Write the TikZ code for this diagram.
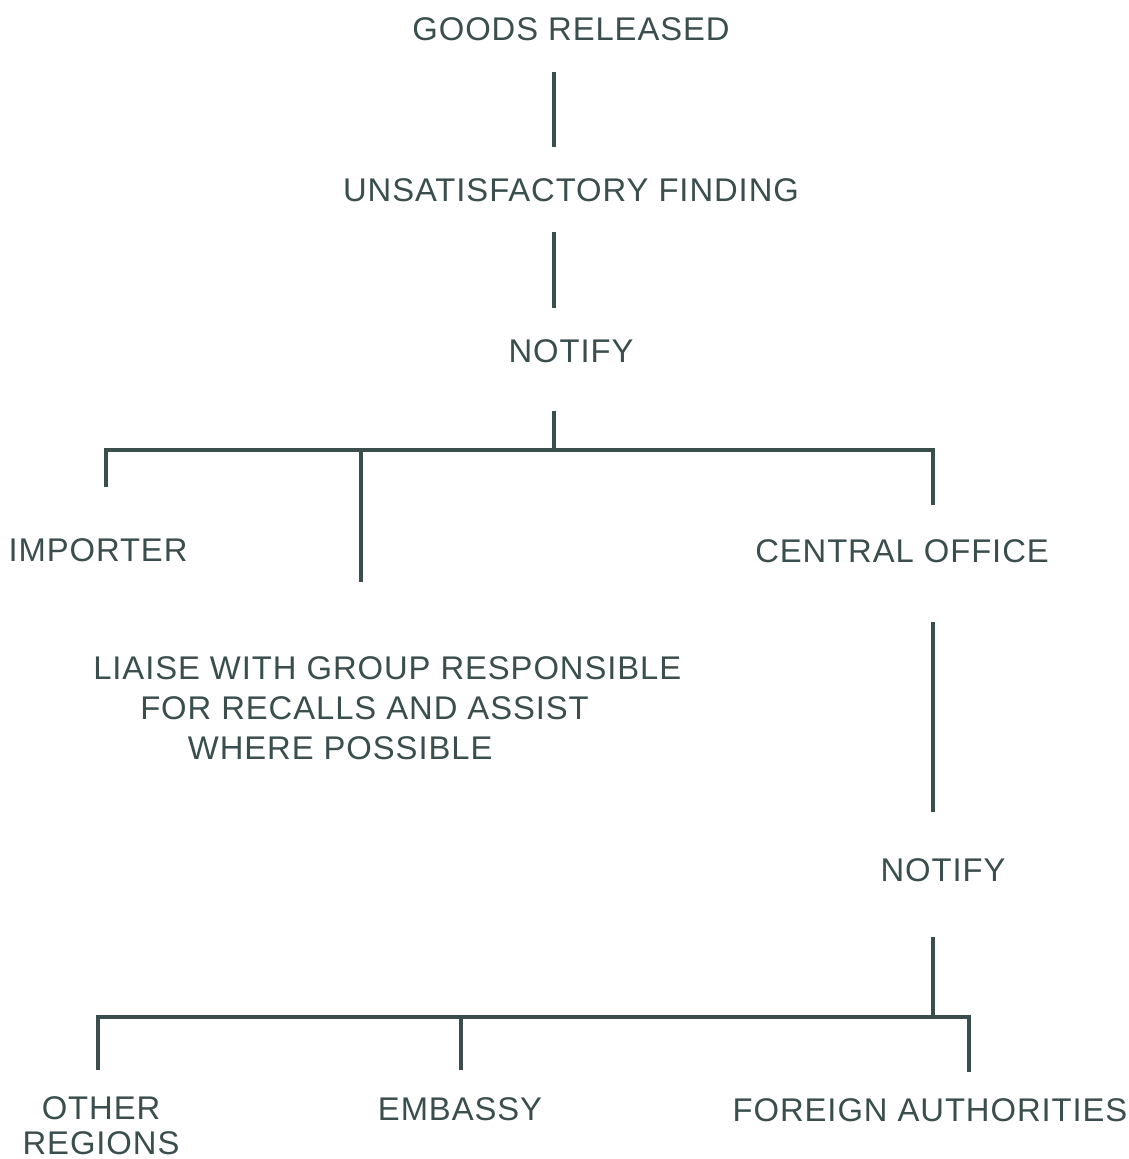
\documentclass[tikz,border=0pt]{standalone}
\usepackage{fontspec}
\setmainfont[LetterSpace=2.8]{Liberation Sans}
\definecolor{ink}{RGB}{58,78,78}
\begin{document}
\begin{tikzpicture}[x=0.75pt,y=-0.75pt,
  lbl/.style={text=ink, font=\fontsize{24.6}{30}\selectfont, inner sep=0pt, anchor=base},
  link/.style={draw=ink, line width=3pt}]
\useasboundingbox (0,0) rectangle (1128,1159);

% labels
\node[lbl] (goods)   at (571,41)  {GOODS RELEASED};
\node[lbl] (unsat)   at (571,201) {UNSATISFACTORY FINDING};
\node[lbl] (notify)  at (571,362) {NOTIFY};
\node[lbl] (imp)     at (98,561)  {IMPORTER};
\node[lbl] (central) at (902,562) {CENTRAL OFFICE};
\node[lbl, anchor=north west, align=left] (liaise) at (93,656)
  {LIAISE WITH GROUP RESPONSIBLE\\
   \hspace*{35.25pt}FOR RECALLS AND ASSIST\\
   \hspace*{71pt}WHERE POSSIBLE};
\node[lbl] (notify2) at (943,881) {NOTIFY};
\node[lbl, anchor=north, align=center, font=\fontsize{24.6}{26.25}\selectfont] (other) at (101,1096)
  {OTHER\\REGIONS};
\node[lbl] (embassy) at (460,1120) {EMBASSY};
\node[lbl] (foreign) at (930,1121) {FOREIGN AUTHORITIES};

% connector end points
\coordinate (s1a) at (554,72);   \coordinate (s1b) at (554,147);
\coordinate (s2a) at (554,232);  \coordinate (s2b) at (554,308);
\coordinate (s3a) at (554,411);  \coordinate (j1)  at (554,450);
\coordinate (barL) at (106,450); \coordinate (barR) at (933,450);
\coordinate (impEnd) at (106,487);
\coordinate (midJ) at (361,450); \coordinate (midEnd) at (361,582);
\coordinate (coEnd) at (933,505);
\coordinate (s4a) at (933,622);  \coordinate (s4b) at (933,812);
\coordinate (s5a) at (933,937);  \coordinate (j2)  at (933,1017);
\coordinate (bar2L) at (98,1017); \coordinate (bar2R) at (969,1017);
\coordinate (othEnd) at (98,1070);
\coordinate (embJ) at (461,1017); \coordinate (embEnd) at (461,1070);
\coordinate (forEnd) at (969,1072);

% connectors
\draw[link] (s1a) -- (s1b);
\draw[link] (s2a) -- (s2b);
\draw[link] (s3a) -- (j1);
\draw[link] (impEnd) -- (barL) -- (barR) -- (coEnd);
\draw[link] (midJ) -- (midEnd);
\draw[link] (s4a) -- (s4b);
\draw[link] (s5a) -- (j2);
\draw[link] (othEnd) -- (bar2L) -- (bar2R) -- (forEnd);
\draw[link] (embJ) -- (embEnd);
\end{tikzpicture}
\end{document}
